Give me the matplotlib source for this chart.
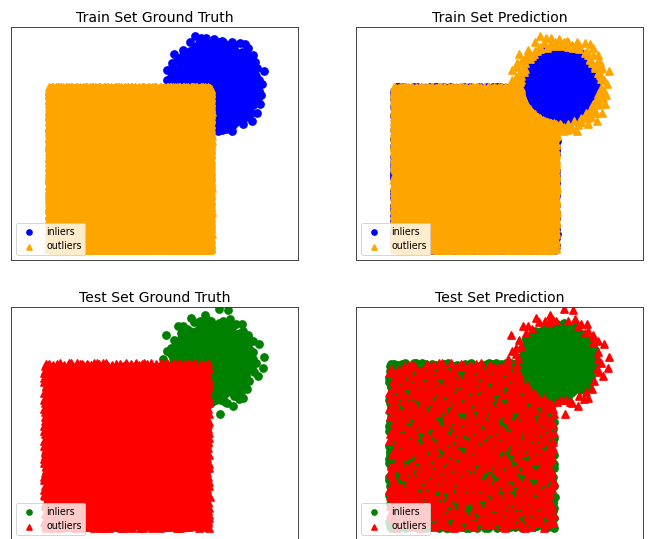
import numpy as np
import matplotlib
matplotlib.use("Agg")
import matplotlib.pyplot as plt

# Panel titles, legend labels and colours
titles = ["Train Set Ground Truth", "Train Set Prediction",
          "Test Set Ground Truth", "Test Set Prediction"]
legend_labels = ["inliers", "outliers"]
train_colors = ["blue", "orange"]
test_colors = ["green", "red"]

# Shape of the two point clouds (data units)
cluster_center = (10.2, 10.1)   # dense normal cluster (true inliers)
cluster_sigma = 1.0
cluster_max_radius = 3.3
square_lo, square_hi = 0.0, 10.0  # uniform square (true outliers)
core_radius = 2.35              # detector keeps this disc as inliers
# share of square points the detector calls inliers
train_square_inlier_share = 0.3
test_square_inlier_share = 0.67

n_train_inliers, n_train_outliers = 2500, 15000
n_test_inliers, n_test_outliers = 1200, 3000

train_xlim, train_ylim = (-2.3, 15.3), (-0.6, 13.64)
test_xlim, test_ylim = (-1.96, 15.33), (-0.69, 13.34)

marker_size = 49
edge_width = 1.75


def radical_inverse(idx, base):
    """Van der Corput radical inverse of integer indices."""
    i = np.asarray(idx, dtype=np.int64).copy()
    out = np.zeros(i.shape)
    f = 1.0 / base
    while np.any(i > 0):
        out += f * (i % base)
        i //= base
        f /= base
    return out


def square_cloud(start, n):
    idx = np.arange(start, start + n)
    x = square_lo + (square_hi - square_lo) * radical_inverse(idx, 2)
    y = square_lo + (square_hi - square_lo) * radical_inverse(idx, 3)
    pick = radical_inverse(idx, 5)
    return np.column_stack([x, y]), pick


def cluster_cloud(start, n):
    idx = np.arange(start, start + n)
    u = radical_inverse(idx, 2)
    v = radical_inverse(idx, 3)
    tail = 1.0 - np.exp(-cluster_max_radius ** 2 / (2 * cluster_sigma ** 2))
    r = cluster_sigma * np.sqrt(-2.0 * np.log(1.0 - u * tail))
    t = 2.0 * np.pi * v
    return np.column_stack([cluster_center[0] + r * np.cos(t),
                            cluster_center[1] + r * np.sin(t)])


def predict(inl, out, pick, share):
    pts = np.vstack([inl, out])
    d = np.hypot(pts[:, 0] - cluster_center[0], pts[:, 1] - cluster_center[1])
    in_core = d < core_radius
    sq_pick = np.concatenate([np.zeros(len(inl), bool), pick < share])
    is_in = in_core | sq_pick
    return pts[is_in], pts[~is_in]


tr_in = cluster_cloud(1, n_train_inliers)
tr_out, tr_pick = square_cloud(1, n_train_outliers)
te_in = cluster_cloud(1 + n_train_inliers, n_test_inliers)
te_out, te_pick = square_cloud(1 + n_train_outliers, n_test_outliers)

tr_pred_in, tr_pred_out = predict(tr_in, tr_out, tr_pick, train_square_inlier_share)
te_pred_in, te_pred_out = predict(te_in, te_out, te_pick, test_square_inlier_share)

W, H, DPI = 648, 539, 72
fig = plt.figure(figsize=(W / DPI, H / DPI), dpi=DPI)

aw, ah = 287 / W, 233 / H
positions = [
    (11 / W, 1 - 260 / H),
    (356 / W, 1 - 260 / H),
    (11 / W, 1 - 540 / H),
    (356 / W, 1 - 540 / H),
]
panels = [
    (tr_in, tr_out, train_colors, train_xlim, train_ylim),
    (tr_pred_in, tr_pred_out, train_colors, train_xlim, train_ylim),
    (te_in, te_out, test_colors, test_xlim, test_ylim),
    (te_pred_in, te_pred_out, test_colors, test_xlim, test_ylim),
]

for (px, py), title, (inl, out, cols, xl, yl) in zip(positions, titles, panels):
    ax = fig.add_axes([px, py, aw, ah])
    ax.scatter(inl[:, 0], inl[:, 1], c=cols[0], marker="o", s=marker_size,
               linewidths=edge_width, label=legend_labels[0])
    ax.scatter(out[:, 0], out[:, 1], c=cols[1], marker="^", s=marker_size,
               linewidths=edge_width, label=legend_labels[1])
    ax.set_xlim(*xl)
    ax.set_ylim(*yl)
    ax.set_xticks([])
    ax.set_yticks([])
    for sp in ax.spines.values():
        sp.set_linewidth(0.9)
        sp.set_edgecolor("#333333")
    ax.set_title(title, fontsize=14, pad=5)
    ax.legend(loc="lower left", fontsize=9.5, markerscale=0.7)

fig.savefig("out.png", dpi=DPI)
